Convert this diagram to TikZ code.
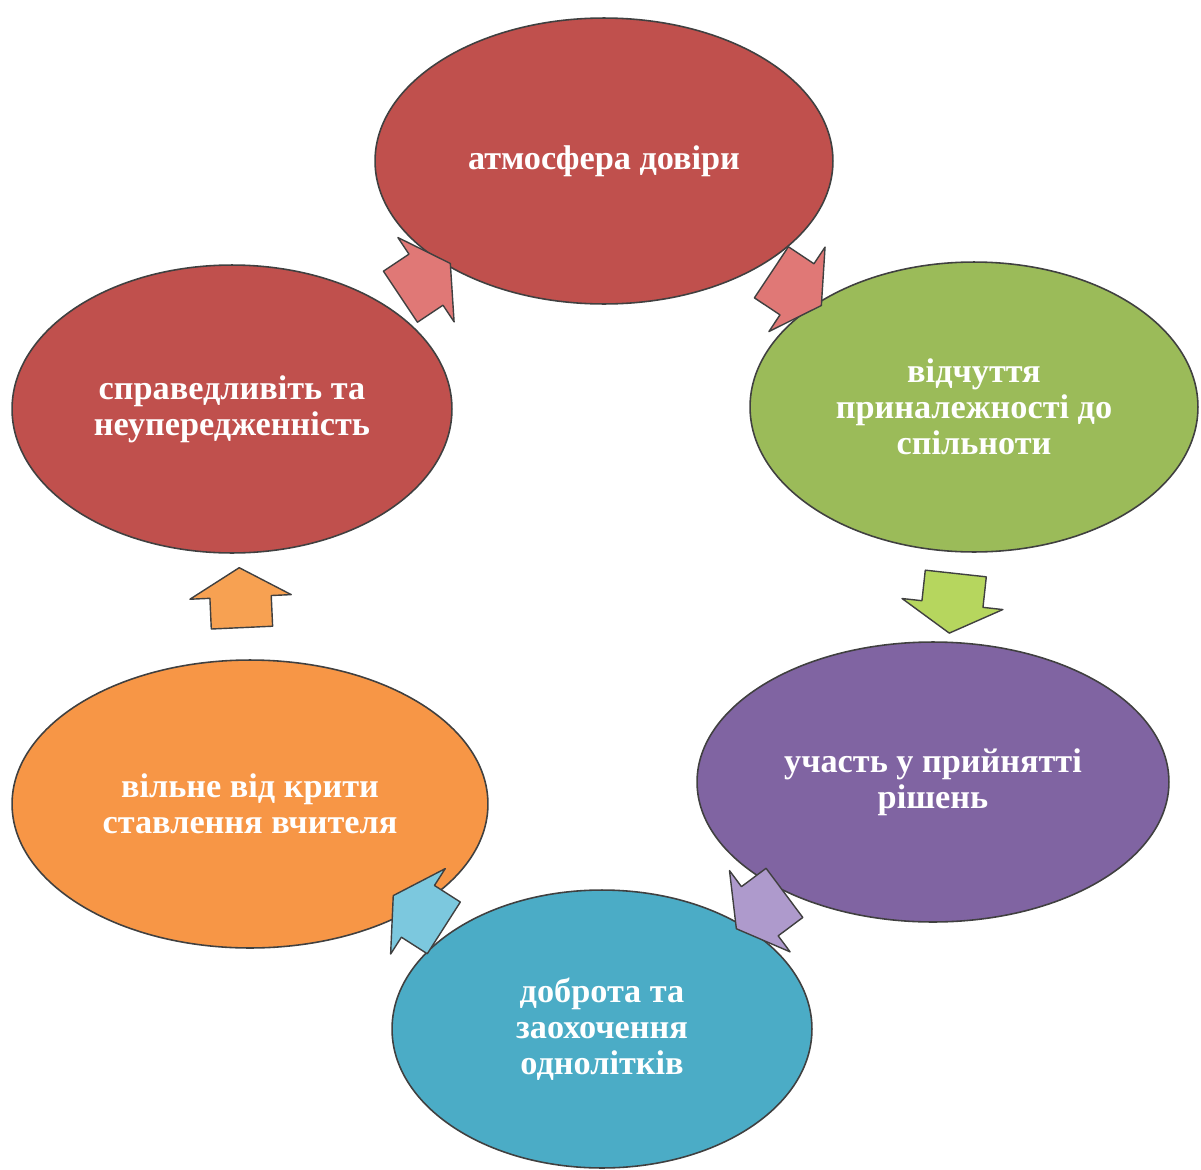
\documentclass[tikz,border=0pt]{standalone}
\usepackage{fontspec}
\setmainfont{Liberation Serif}
\usetikzlibrary{shapes.geometric,shapes.arrows}
\definecolor{cRed}{HTML}{C0504D}
\definecolor{cGreen}{HTML}{9BBB59}
\definecolor{cPurple}{HTML}{8064A2}
\definecolor{cBlue}{HTML}{4BACC6}
\definecolor{cOrange}{HTML}{F79646}
\definecolor{aRed}{HTML}{E07876}
\definecolor{aGreen}{HTML}{B6D65E}
\definecolor{aPurple}{HTML}{AE9ACC}
\definecolor{aBlue}{HTML}{7CC8DE}
\definecolor{aOrange}{HTML}{F7A152}

\begin{document}
\begin{tikzpicture}[line cap=round,line join=round,x=0.02cm,y=-0.02cm,
  oval/.style={ellipse,draw=black!75,line width=0.9pt,inner sep=0pt,text=white,align=center,
    font=\bfseries\fontsize{19.5}{20.5}\selectfont},
  blk/.style={single arrow,draw=black!75,line width=0.8pt,inner xsep=0pt,inner ysep=0.6cm,
    minimum height=1.2cm,single arrow head extend=0.4cm,single arrow tip angle=120,
    single arrow head indent=0pt,pos=0.5,sloped,allow upside down}]
\useasboundingbox (0,0) rectangle (1201,1170);

% ovals, clockwise from the top
\node[oval,fill=cRed,minimum width=9.16cm,minimum height=5.72cm] (dov) at (604,161) {атмосфера довіри};
\node[oval,fill=cGreen,minimum width=8.96cm,minimum height=5.8cm] (nal) at (974,407) {відчуття\\приналежності до\\спільноти};
\node[oval,fill=cPurple,minimum width=9.44cm,minimum height=5.6cm] (uch) at (933,782) {участь у прийнятті\\рішень};
\node[oval,fill=cBlue,minimum width=8.4cm,minimum height=5.56cm] (dob) at (602,1029) {доброта та\\заохочення\\однолітків};
\node[oval,fill=cOrange,minimum width=9.52cm,minimum height=5.76cm] (vil) at (250,804) {вільне від крити\\ставлення вчителя};
\node[oval,fill=cRed,minimum width=8.8cm,minimum height=5.76cm] (spr) at (232,409) {справедливіть та\\неупередженність};

% arrows
\path (spr.center) -- (dov.center) node[blk,fill=aRed] (a1) {};
\path (dov.center) -- (nal.center) node[blk,fill=aRed] (a2) {};
\path (nal.center) -- (uch.center) node[blk,fill=aGreen] (a3) {};
\path (uch.center) -- (dob.center) node[blk,fill=aPurple] (a4) {};
\path (dob.center) -- (vil.center) node[blk,fill=aBlue] (a5) {};
\path (vil.center) -- (spr.center) node[blk,fill=aOrange] (a6) {};
\end{tikzpicture}
\end{document}
